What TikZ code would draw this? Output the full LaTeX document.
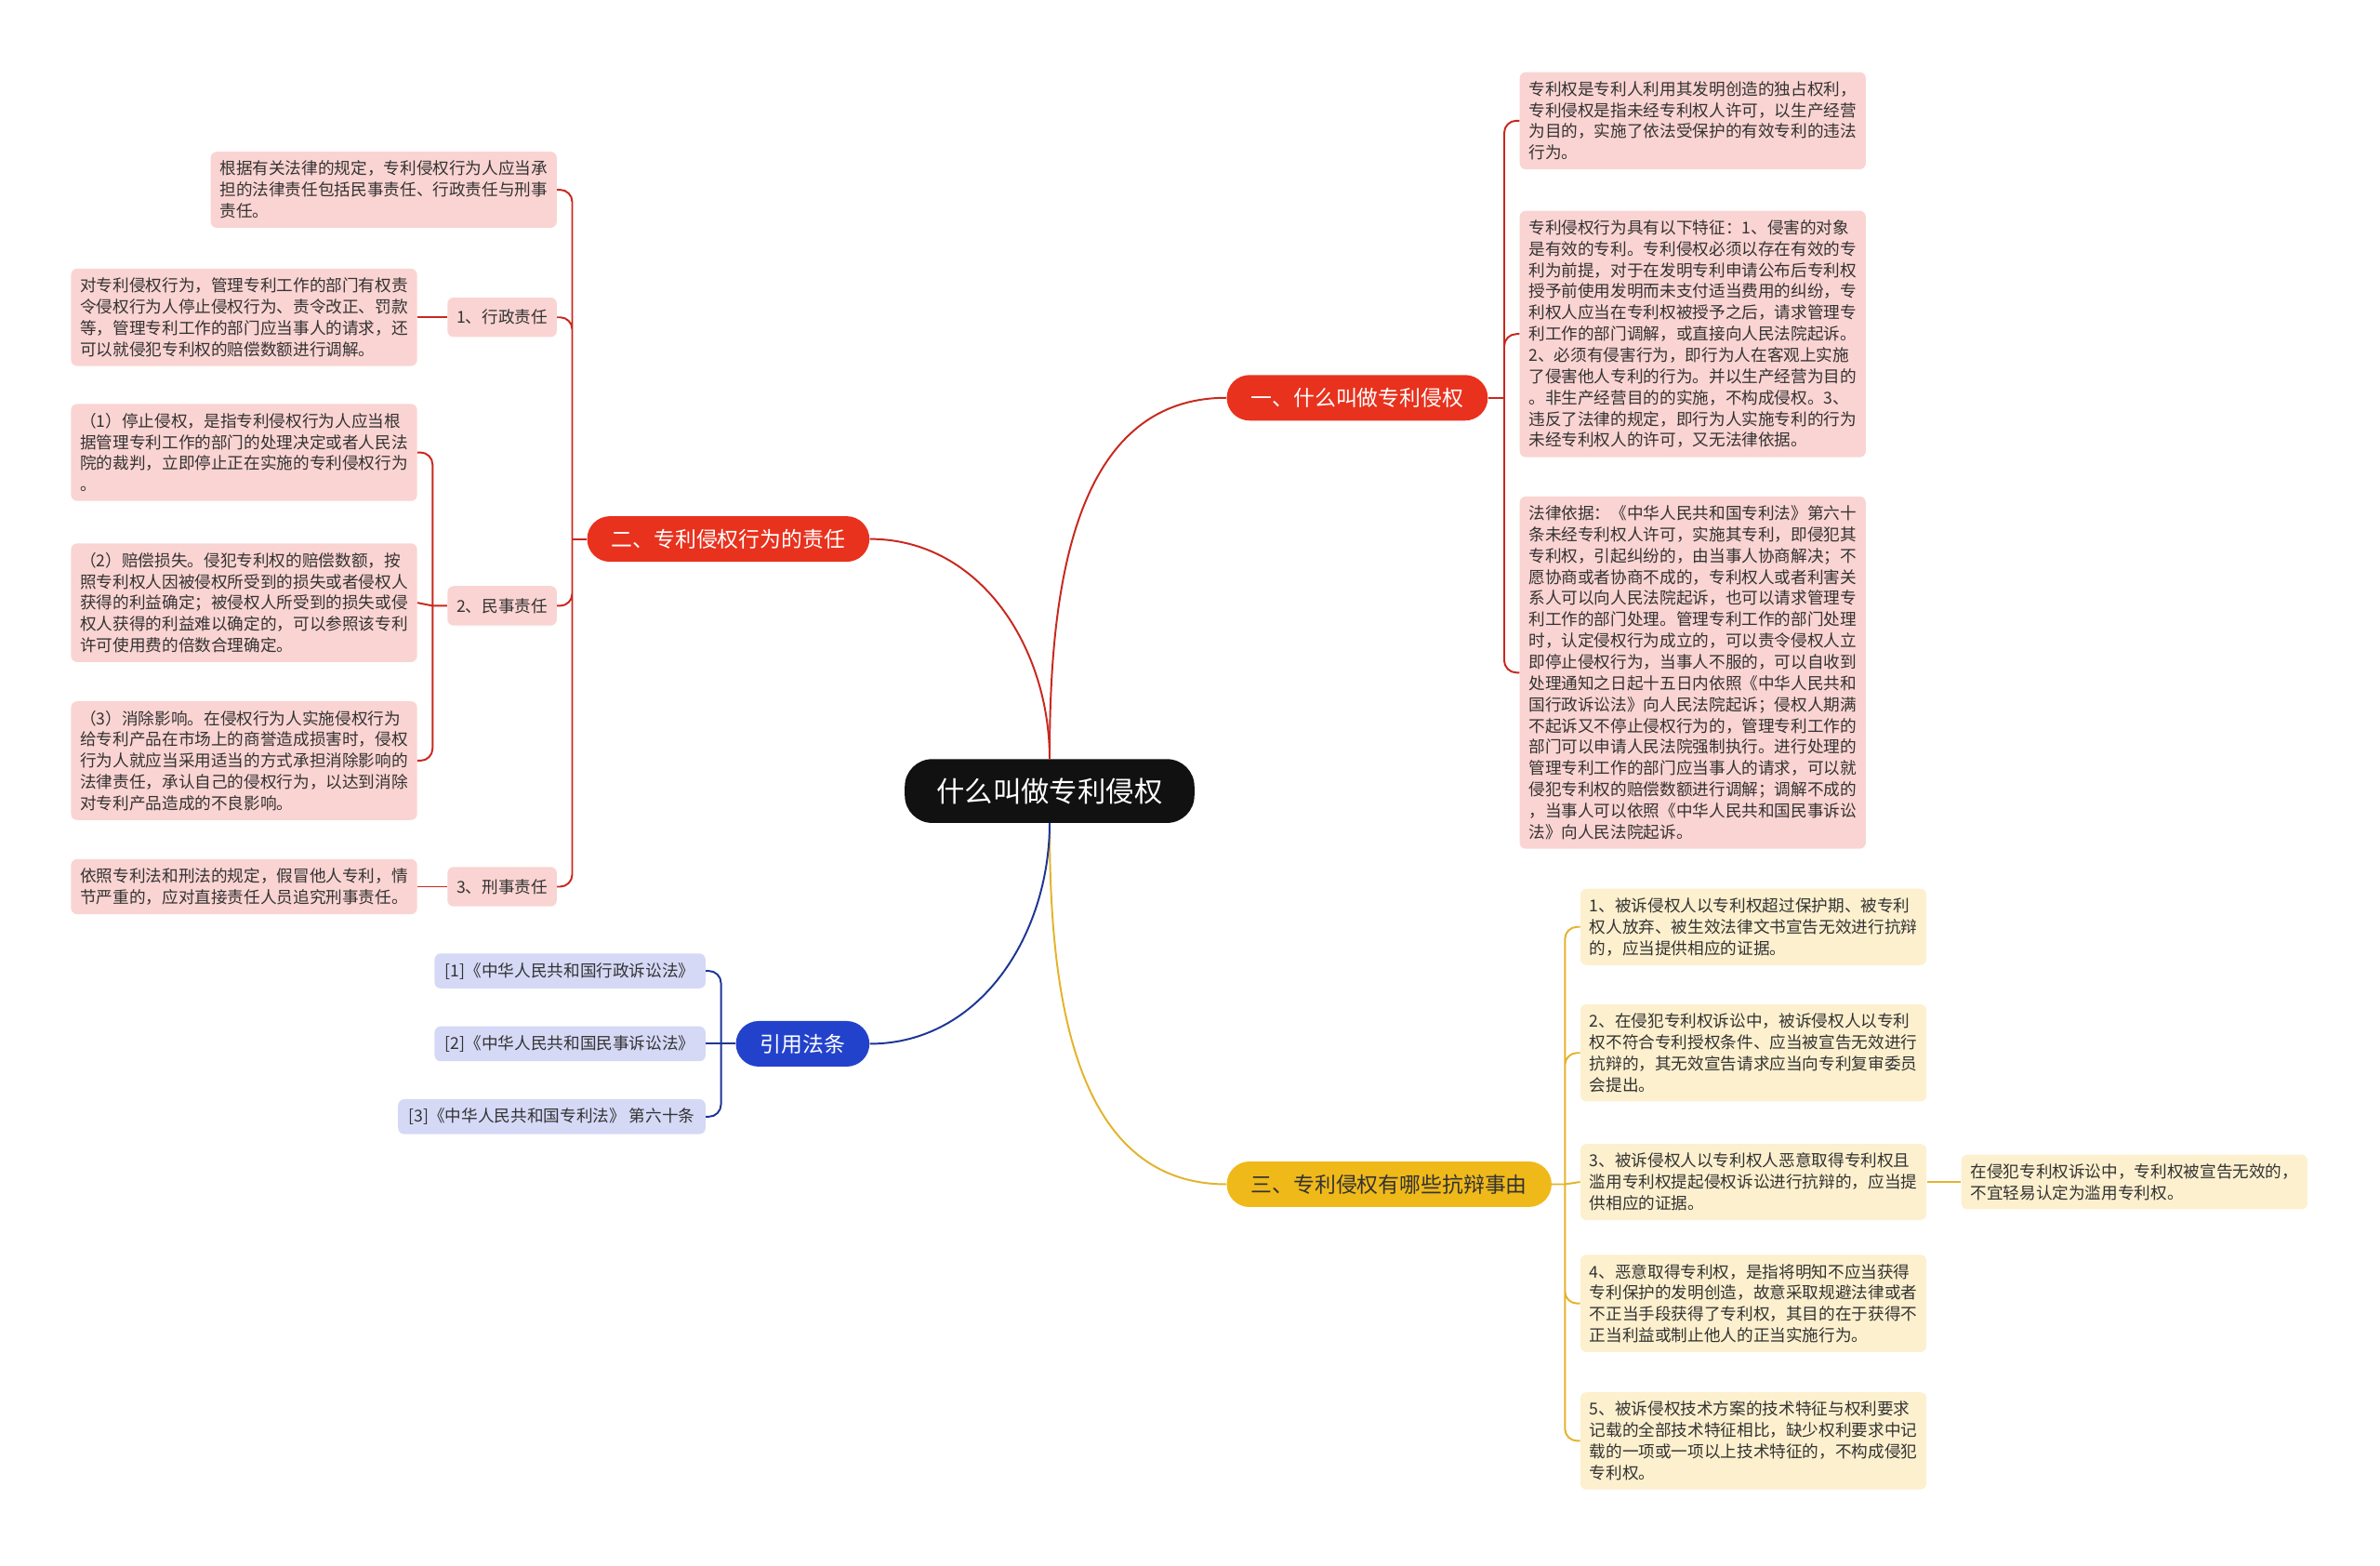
\documentclass[tikz,border=0pt]{standalone}
\usepackage{fontspec}
\setmainfont{Noto Sans CJK SC}
\definecolor{hubfill}{HTML}{111111}
\definecolor{redfill}{HTML}{E8321E}
\definecolor{pinkfill}{HTML}{FAD4D2}
\definecolor{redline}{HTML}{C8281E}
\definecolor{goldfill}{HTML}{F0B91A}
\definecolor{creamfill}{HTML}{FDF0CE}
\definecolor{goldline}{HTML}{E3B32B}
\definecolor{bluefill}{HTML}{2342CC}
\definecolor{lilacfill}{HTML}{D5D9F6}
\definecolor{blueline}{HTML}{1E3596}
\definecolor{darktext}{HTML}{333333}

\begin{document}
\begin{tikzpicture}[
	x=1pt, y=-1pt,
	hub/.style={ fill=hubfill, text=white, rounded corners=18pt, inner xsep=21pt, inner ysep=0pt, minimum height=42pt, font=\fontsize{18.6}{22}\selectfont },
	branch/.style={ rounded corners=15pt, inner xsep=16pt, inner ysep=0pt, minimum height=30pt, font=\fontsize{14}{16}\selectfont },
	branchr/.style={ branch, fill=redfill, text=white },
	branchy/.style={ branch, fill=goldfill, text=darktext },
	branchb/.style={ branch, fill=bluefill, text=white },
	leaf/.style={ rounded corners=4pt, align=left, text width=216pt, inner xsep=6pt, inner ysep=6pt, text=darktext, font=\fontsize{10.8}{14}\selectfont },
	leafr/.style={ leaf, fill=pinkfill },
	leafy/.style={ leaf, fill=creamfill },
	tagr/.style={ rounded corners=4pt, inner xsep=6pt, inner ysep=0pt, minimum height=26pt, fill=pinkfill, text=darktext, font=\fontsize{10.8}{14}\selectfont },
	tagb/.style={ rounded corners=4pt, inner xsep=7pt, inner ysep=0pt, minimum height=23pt, fill=lilacfill, text=darktext, font=\fontsize{10.8}{14}\selectfont },
	edger/.style={ draw=redline, line width=1.2pt },
	edgey/.style={ draw=goldline, line width=1.2pt },
	edgeb/.style={ draw=blueline, line width=1.2pt }
]
\useasboundingbox (0,0) rectangle (1568,1031);

\node at (691.5,521) (hub) [hub] {什么叫做专利侵权};

\node at (808,262) (b1) [branchr,anchor=west] {一、什么叫做专利侵权};
\node at (573,355) (b2) [branchr,anchor=east] {二、专利侵权行为的责任};
\node at (808,780) (b3) [branchy,anchor=west] {三、专利侵权有哪些抗辩事由};
\node at (573,687.5) (b4) [branchb,anchor=east] {引用法条};

\draw[edger] (hub.north) .. controls +(0,-104) and +(-104,0) .. (b1.west);
\draw[edger] (hub.north) .. controls +(0,-73) and +(73,0) .. (b2.east);
\draw[edgey] (hub.south) .. controls +(0,104) and +(-104,0) .. (b3.west);
\draw[edgeb] (hub.south) .. controls +(0,73) and +(73,0) .. (b4.east);

% 一、什么叫做专利侵权
\node at (1001,79.5) (r1) [leafr,anchor=west] {专利权是专利人利用其发明创造的独占权利，\\
专利侵权是指未经专利权人许可，以生产经营\\
为目的，实施了依法受保护的有效专利的违法\\
行为。};
\node at (1001,220) (r2) [leafr,anchor=west] {专利侵权行为具有以下特征：1、侵害的对象\\
是有效的专利。专利侵权必须以存在有效的专\\
利为前提，对于在发明专利申请公布后专利权\\
授予前使用发明而未支付适当费用的纠纷，专\\
利权人应当在专利权被授予之后，请求管理专\\
利工作的部门调解，或直接向人民法院起诉。\\
2、必须有侵害行为，即行为人在客观上实施\\
了侵害他人专利的行为。并以生产经营为目的\\
。非生产经营目的的实施，不构成侵权。3、\\
违反了法律的规定，即行为人实施专利的行为\\
未经专利权人的许可，又无法律依据。};
\node at (1001,443) (r3) [leafr,anchor=west] {法律依据：《中华人民共和国专利法》第六十\\
条未经专利权人许可，实施其专利，即侵犯其\\
专利权，引起纠纷的，由当事人协商解决；不\\
愿协商或者协商不成的，专利权人或者利害关\\
系人可以向人民法院起诉，也可以请求管理专\\
利工作的部门处理。管理专利工作的部门处理\\
时，认定侵权行为成立的，可以责令侵权人立\\
即停止侵权行为，当事人不服的，可以自收到\\
处理通知之日起十五日内依照《中华人民共和\\
国行政诉讼法》向人民法院起诉；侵权人期满\\
不起诉又不停止侵权行为的，管理专利工作的\\
部门可以申请人民法院强制执行。进行处理的\\
管理专利工作的部门应当事人的请求，可以就\\
侵犯专利权的赔偿数额进行调解；调解不成的\\
，当事人可以依照《中华人民共和国民事诉讼\\
法》向人民法院起诉。};
\coordinate (j1) at (991,262);
\draw[edger] (b1.east) to (j1);
\draw[edger,rounded corners=8pt] (j1) |- (r1.west) (j1) |- (r2.west) (j1) |- (r3.west);

% 二、专利侵权行为的责任
\node at (367,125) (l0) [leafr,anchor=east] {根据有关法律的规定，专利侵权行为人应当承\\
担的法律责任包括民事责任、行政责任与刑事\\
责任。};
\node at (367,209) (l1) [tagr,anchor=east] {1、行政责任};
\node at (367,399) (l2) [tagr,anchor=east] {2、民事责任};
\node at (367,584) (l3) [tagr,anchor=east] {3、刑事责任};
\coordinate (j2) at (377,355);
\draw[edger] (b2.west) to (j2);
\draw[edger,rounded corners=8pt] (j2) |- (l0.east) (j2) |- (l1.east) (j2) |- (l2.east) (j2) |- (l3.east);

\node at (275,209) (l1a) [leafr,anchor=east] {对专利侵权行为，管理专利工作的部门有权责\\
令侵权行为人停止侵权行为、责令改正、罚款\\
等，管理专利工作的部门应当事人的请求，还\\
可以就侵犯专利权的赔偿数额进行调解。};
\draw[edger] (l1.west) to (l1a.east);

\node at (275,298) (l2a) [leafr,anchor=east] {（1）停止侵权，是指专利侵权行为人应当根\\
据管理专利工作的部门的处理决定或者人民法\\
院的裁判，立即停止正在实施的专利侵权行为\\
。};
\node at (275,397) (l2b) [leafr,anchor=east] {（2）赔偿损失。侵犯专利权的赔偿数额，按\\
照专利权人因被侵权所受到的损失或者侵权人\\
获得的利益确定；被侵权人所受到的损失或侵\\
权人获得的利益难以确定的，可以参照该专利\\
许可使用费的倍数合理确定。};
\node at (275,501) (l2c) [leafr,anchor=east] {（3）消除影响。在侵权行为人实施侵权行为\\
给专利产品在市场上的商誉造成损害时，侵权\\
行为人就应当采用适当的方式承担消除影响的\\
法律责任，承认自己的侵权行为，以达到消除\\
对专利产品造成的不良影响。};
\coordinate (j3) at (285,399);
\draw[edger] (l2.west) to (j3) to (l2b.east);
\draw[edger,rounded corners=8pt] (j3) |- (l2a.east) (j3) |- (l2c.east);

\node at (275,584) (l3a) [leafr,anchor=east] {依照专利法和刑法的规定，假冒他人专利，情\\
节严重的，应对直接责任人员追究刑事责任。};
\draw[edger] (l3.west) to (l3a.east);

% 引用法条
\node at (465,639.5) (c1) [tagb,anchor=east] {[1]《中华人民共和国行政诉讼法》};
\node at (465,687.5) (c2) [tagb,anchor=east] {[2]《中华人民共和国民事诉讼法》};
\node at (465,735.5) (c3) [tagb,anchor=east] {[3]《中华人民共和国专利法》 第六十条};
\coordinate (j4) at (475,687.5);
\draw[edgeb] (b4.west) to (j4) to (c2.east);
\draw[edgeb,rounded corners=8pt] (j4) |- (c1.east) (j4) |- (c3.east);

% 三、专利侵权有哪些抗辩事由
\node at (1041,610.5) (y1) [leafy,anchor=west] {1、被诉侵权人以专利权超过保护期、被专利\\
权人放弃、被生效法律文书宣告无效进行抗辩\\
的，应当提供相应的证据。};
\node at (1041,693.5) (y2) [leafy,anchor=west] {2、在侵犯专利权诉讼中，被诉侵权人以专利\\
权不符合专利授权条件、应当被宣告无效进行\\
抗辩的，其无效宣告请求应当向专利复审委员\\
会提出。};
\node at (1041,778.5) (y3) [leafy,anchor=west] {3、被诉侵权人以专利权人恶意取得专利权且\\
滥用专利权提起侵权诉讼进行抗辩的，应当提\\
供相应的证据。};
\node at (1041,858.5) (y4) [leafy,anchor=west] {4、恶意取得专利权，是指将明知不应当获得\\
专利保护的发明创造，故意采取规避法律或者\\
不正当手段获得了专利权，其目的在于获得不\\
正当利益或制止他人的正当实施行为。};
\node at (1041,949) (y5) [leafy,anchor=west] {5、被诉侵权技术方案的技术特征与权利要求\\
记载的全部技术特征相比，缺少权利要求中记\\
载的一项或一项以上技术特征的，不构成侵犯\\
专利权。};
\coordinate (j5) at (1031,780);
\draw[edgey] (b3.east) to (j5) to (y3.west);
\draw[edgey,rounded corners=8pt] (j5) |- (y1.west) (j5) |- (y2.west) (j5) |- (y4.west) (j5) |- (y5.west);

\node at (1292,778.5) (y3a) [leafy,anchor=west] {在侵犯专利权诉讼中，专利权被宣告无效的，\\
不宜轻易认定为滥用专利权。};
\draw[edgey] (y3.east) to (y3a.west);

\end{tikzpicture}
\end{document}
